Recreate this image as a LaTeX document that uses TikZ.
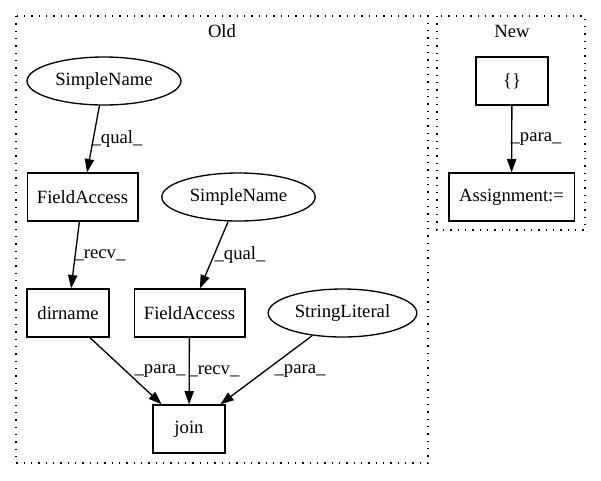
\documentclass[tikz,border=0pt]{standalone}
\usepackage{fontspec}
\setmainfont{Liberation Serif}
\usetikzlibrary{arrows.meta,shapes.geometric}
\begin{document}
\begin{tikzpicture}[x=0.75pt,y=-0.75pt,
  every node/.style={font=\fontsize{14pt}{16pt}\selectfont},
  boxnode/.style={draw,line width=1pt,rectangle,inner sep=0pt},
  ellnode/.style={draw,line width=1pt,ellipse,inner sep=0pt},
  cluster/.style={draw,line width=1pt,dash pattern=on 1pt off 4.5pt},
  edge/.style={draw,line width=1pt,-{Triangle[length=10pt,width=7pt]}},
  elabel/.style={inner sep=0pt}]
\useasboundingbox (0,0) rectangle (601,480);
% clusters
\draw[cluster] (16,16) rectangle (428,463);
\node (oldlbl) at (222,31) {Old};
\draw[cluster] (437,16) rectangle (585,230);
\node (newlbl) at (512,31) {New};
% Old nodes
\node[ellnode,minimum width=115.5pt,minimum height=36pt] (sn1) at (104,81) {SimpleName};
\node[boxnode,minimum width=83pt,minimum height=36pt] (fa1) at (82.5,197) {FieldAccess};
\node[ellnode,minimum width=115pt,minimum height=36pt] (sn2) at (238.5,197) {SimpleName};
\node[boxnode,minimum width=61.5pt,minimum height=36pt] (dir) at (68,313) {dirname};
\node[boxnode,minimum width=83pt,minimum height=36pt] (fa2) at (189.5,313) {FieldAccess};
\node[ellnode,minimum width=111.5pt,minimum height=36pt] (sl) at (342.5,313) {StringLiteral};
\node[boxnode,minimum width=54pt,minimum height=36pt] (join) at (189,429) {join};
% New nodes
\node[boxnode,minimum width=54pt,minimum height=36pt] (br) at (512,81) {\{\}};
\node[boxnode,minimum width=94pt,minimum height=36pt] (asg) at (511.5,197) {Assignment:=};
% edges
\draw[edge] (sn1) -- (fa1);
\node[elabel] (l1) at (117,139) {\_qual\_};
\draw[edge] (fa1) -- (dir);
\node[elabel] (l2) at (100,255) {\_recv\_};
\draw[edge] (sn2) -- (fa2);
\node[elabel] (l3) at (240,255) {\_qual\_};
\draw[edge] ([xshift=16.5pt]dir.south) -- ([xshift=7pt]join.north west);
\node[elabel] (l4) at (160,371) {\_para\_};
\draw[edge] (fa2) -- (join);
\node[elabel] (l5) at (214,371) {\_recv\_};
\draw[edge] (sl) -- ([xshift=-4pt]join.north east);
\node[elabel] (l6) at (300,371) {\_para\_};
\draw[edge] (br) -- (asg);
\node[elabel] (l7) at (536,139) {\_para\_};
\end{tikzpicture}
\end{document}
